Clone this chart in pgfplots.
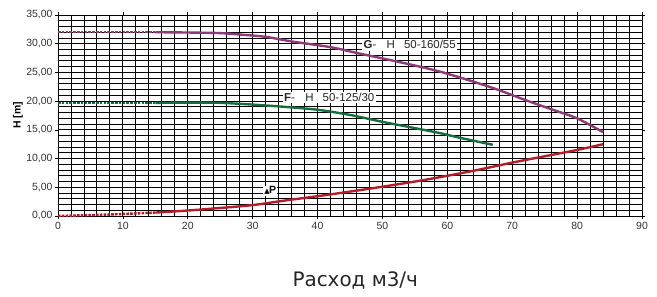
\documentclass[border=0pt]{standalone}
\usepackage{fontspec}
\setmainfont{Liberation Sans}
\newfontfamily\xlfont{DejaVu Sans}
\newfontfamily\symfont{DejaVu Sans}
\usepackage{pgfplots}
\pgfplotsset{compat=1.18}
\definecolor{cG}{RGB}{140,58,120}
\definecolor{cF}{RGB}{22,110,62}
\definecolor{cP}{RGB}{178,30,40}
\begin{document}
\begin{tikzpicture}
\path[use as bounding box] (-58bp,-81bp) rectangle (599bp,216bp);
\begin{axis}[
  at={(0,0)}, anchor=south west,
  scale only axis, width=584bp, height=201bp,
  xmin=0, xmax=90, ymin=0, ymax=35,
  xtick={0,10,...,90}, ytick={0,5,...,35},
  minor x tick num=4, minor y tick num=4,
  grid=both,
  major grid style={black, line width=0.9bp},
  minor grid style={black, line width=0.9bp},
  axis line style={black, line width=0.9bp},
  tick align=outside, major tick length=3bp, minor tick length=0pt,
  tick style={black, line width=0.6bp},
  /pgf/number format/assume math mode=true,
  yticklabel style={/pgf/number format/fixed, /pgf/number format/fixed zerofill, /pgf/number format/precision=2, /pgf/number format/use comma, xshift=1bp},
  ticklabel style={font=\fontsize{10.5}{12}\selectfont, text=black!80},
  ylabel={\textbf{H [m]}},
  ylabel style={at={(axis description cs:-0.0685,0.5)}, anchor=center, font=\fontsize{10.5}{12}\selectfont},
  xlabel={\xlfont Расход м3/ч},
  xlabel style={at={(axis description cs:0.509,-0.323)}, anchor=center, font=\fontsize{20}{23}\selectfont, text=black!85},
]
\addplot[cG, line width=2.5bp, dash pattern=on 2.6bp off 1.2bp] coordinates {(0,32) (15,32)};
\addplot[cG, line width=2.4bp, smooth] coordinates {(15,32) (20,31.95) (25,31.85) (28,31.6) (32,31.2) (36,30.4) (42,29.4) (46,28.4) (51,27.2) (55,26.2) (59,25.1) (64,23.4) (68,21.9) (72,20.2) (76,18.6) (80,17.0) (84,14.6)};
\addplot[cF, line width=2.5bp, dash pattern=on 2.6bp off 1.2bp] coordinates {(0,19.7) (15,19.7)};
\addplot[cF, line width=2.4bp, smooth] coordinates {(15,19.7) (20,19.75) (25,19.7) (30,19.4) (35,19.0) (40,18.5) (45,17.6) (50,16.4) (55,15.3) (59,14.4) (62,13.6) (67,12.4)};
\addplot[cP, line width=2.5bp, dash pattern=on 2.6bp off 1.2bp] coordinates {(0,0) (5,0.15) (10,0.35) (15,0.6)};
\addplot[cP, line width=2.4bp, smooth] coordinates {(15,0.6) (20,0.95) (25,1.4) (30,1.9) (35,2.7) (40,3.45) (45,4.25) (50,5.1) (55,6.0) (60,7.0) (65,8.1) (70,9.3) (75,10.4) (80,11.5) (84,12.5)};
\node[fill=white, inner sep=1.5bp, font=\fontsize{11.5}{13}\selectfont, text=black!85] at (axis cs:54.2,29.8) {\textbf{G}-\hspace{0.9em}H\hspace{0.8em}50-160/55};
\node[fill=white, inner sep=1.5bp, font=\fontsize{11.5}{13}\selectfont, text=black!85] at (axis cs:41.8,20.6) {\textbf{F}-\hspace{0.9em}H\hspace{0.8em}50-125/30};
\node[fill=white, inner sep=1bp, font=\fontsize{10.5}{12}\selectfont] at (axis cs:32.7,4.4) {{\symfont\fontsize{7}{8}\selectfont ▲}\kern-0.5bp\textbf{P}};
\end{axis}
\end{tikzpicture}
\end{document}
